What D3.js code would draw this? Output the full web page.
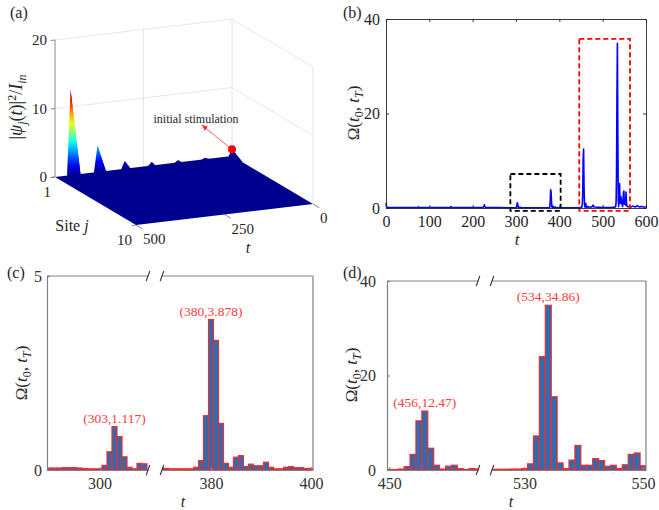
<!DOCTYPE html>
<html>
<head>
<meta charset="utf-8">
<script src="https://cdn.jsdelivr.net/npm/d3@7"></script>
<style>
body { margin: 0; background: #fff; }
text { font-family: "Liberation Serif", "DejaVu Serif", serif; }
</style>
</head>
<body>
<div id="fig"></div>
<script>
// panel (a): peaks of site 1 along t
var siteOnePeakT = [456, 380, 303, 227, 152, 76, 0];
var siteOnePeakV = [12.47, 3.878, 1.117, 0.55, 0.35, 0.22, 1.0];
var aTicksT = [0, 250, 500];
var aTicksJ = [1, 10];
var aTicksZ = [0, 10, 20];
var colorMax = 12.47;

// panel (c) bars
var cLeftT = [290, 291, 292, 293, 294, 295, 296, 297, 298, 299, 300, 301, 302, 303, 304, 305, 306, 307, 308, 309];
var cLeftV = [0.05, 0.05, 0.05, 0.06, 0.06, 0.06, 0.05, 0.04, 0.03, 0.03, 0.03, 0.12, 0.47, 1.117, 0.86, 0.34, 0.07, 0.03, 0.17, 0.16];
var cRightT = [370, 371, 372, 373, 374, 375, 376, 377, 378, 379, 380, 381, 382, 383, 384, 385, 386, 387, 388, 389, 390, 391, 392, 393, 394, 395, 396, 397, 398, 399, 400];
var cRightV = [0.05, 0.04, 0.03, 0.03, 0.03, 0.03, 0.03, 0.07, 0.24, 1.40, 3.878, 3.34, 1.2, 0.17, 0.07, 0.33, 0.37, 0.09, 0.15, 0.11, 0.11, 0.2, 0.07, 0.03, 0.03, 0.07, 0.09, 0.06, 0.06, 0.04, 0.04];
var cPeakT = [303, 380];
var cPeakV = [1.117, 3.878];

// panel (d) bars
var dLeftT = [450, 451, 452, 453, 454, 455, 456, 457, 458, 459, 460, 461, 462, 463, 464, 465];
var dLeftV = [0.1, 0.1, 0.2, 0.7, 3.3, 10.4, 12.47, 4.6, 1.0, 0.2, 0.8, 1.0, 0.3, 0.1, 0.3, 0.2];
var dRightT = [525, 526, 527, 528, 529, 530, 531, 532, 533, 534, 535, 536, 537, 538, 539, 540, 541, 542, 543, 544, 545, 546, 547, 548, 549, 550];
var dRightV = [0.15, 0.15, 0.15, 0.2, 0.2, 0.3, 1.3, 7.2, 24.0, 34.86, 15.5, 1.5, 0.3, 2.1, 5.2, 1.0, 1.0, 2.4, 2.0, 0.8, 1.0, 0.3, 1.1, 3.3, 3.6, 0.9];
var dPeakT = [456, 534];
var dPeakV = [12.47, 34.86];

// panel (b): extra samples outside the zoomed windows
var bExtraT = [0, 1, 2, 3, 6, 30, 60, 74, 75, 76, 78, 110, 148, 150, 152, 154, 190, 224, 226, 227, 228, 230, 260, 288,
  312, 330, 350, 368, 402, 420, 440, 448,
  466, 468, 472, 476, 478, 480, 490, 505, 520, 523,
  551, 552, 553, 554, 555, 556, 557, 560, 565, 570, 575, 580, 585, 590, 595, 600];
var bExtraV = [1.1, 0.4, 0.2, 0.15, 0.12, 0.1, 0.1, 0.1, 0.25, 0.1, 0.1, 0.1, 0.1, 0.3, 0.1, 0.1, 0.1, 0.1, 0.3, 0.7, 0.3, 0.1, 0.1, 0.05,
  0.05, 0.05, 0.05, 0.05, 0.04, 0.05, 0.05, 0.1,
  0.3, 0.2, 0.15, 0.3, 0.6, 0.2, 0.15, 0.1, 0.1, 0.15,
  0.8, 1.0, 0.6, 3.4, 1.2, 0.5, 0.3, 0.3, 0.2, 0.4, 0.2, 0.5, 0.2, 0.3, 0.2, 0.2];
var bTicksX = [0, 100, 200, 300, 400, 500, 600];
var bTicksY = [0, 20, 40];
var blackBoxT = [287, 403], blackBoxV = [-0.6, 7.2];
var redBoxT = [446, 563], redBoxV = [-0.6, 35.8];

var svg = d3.select("#fig").append("svg")
  .attr("width", 659)
  .attr("height", 510);
var defs = svg.append("defs");

var jet = d3.scaleLinear()
  .domain([0, 0.125, 0.375, 0.625, 0.875, 1])
  .range(["#00008f", "#0000ff", "#00ffff", "#ffff00", "#ff0000", "#800000"]);
var intFmt = d3.format("d");

function styleText(sel, size, color) {
  sel.selectAll("text")
    .style("font-family", "'Liberation Serif', serif")
    .style("font-size", size + "px")
    .attr("fill", color);
}

function omegaLabel(x, y) {
  var t = svg.append("text")
    .attr("transform", `translate(${x},${y}) rotate(-90)`)
    .attr("text-anchor", "middle")
    .style("font-size", "17px")
    .attr("fill", "#262626");
  t.append("tspan").text("Ω(");
  t.append("tspan").style("font-style", "italic").text("t");
  t.append("tspan").attr("dy", 4).style("font-size", "12px").text("0");
  t.append("tspan").attr("dy", -4).text(", ");
  t.append("tspan").style("font-style", "italic").text("t");
  t.append("tspan").attr("dy", 4).style("font-size", "12px").style("font-style", "italic").text("T");
  t.append("tspan").attr("dy", -4).text(")");
}

function panelLetter(x, y, s) {
  svg.append("text").attr("x", x).attr("y", y)
    .style("font-size", "16px").attr("fill", "#262626").text(s);
}

// ================= panel (a) =================
var pa = svg.append("g");
var tX = d3.scaleLinear().domain([500, 0]).range([55, 232]);
var tY = d3.scaleLinear().domain([500, 0]).range([177, 156]);
var jX = d3.scaleLinear().domain([1, 10]).range([0, 81]);
var jY = d3.scaleLinear().domain([1, 10]).range([0, 48]);
var zY = d3.scaleLinear().domain([0, 20]).range([0, -137]);

function proj(t, j, z) {
  return [tX(t) + jX(j), tY(t) + jY(j) + zY(z)];
}
function path3(pts, close) {
  return d3.line()(pts.map(p => proj(p[0], p[1], p[2]))) + (close ? "Z" : "");
}

// back wall (j = 1) and side wall (t = 0) grid
var grid = pa.append("g").attr("fill", "none").attr("stroke", "#e3e3e3").attr("stroke-width", 0.9);
aTicksZ.filter(z => z > 0).forEach(function(z) {
  grid.append("path").attr("d", path3([[500, 1, z], [0, 1, z], [0, 10, z]]));
});
aTicksT.filter(t => t < 500).forEach(function(t) {
  grid.append("path").attr("d", path3([[t, 1, 0], [t, 1, 20]]));
});
grid.append("path").attr("d", path3([[0, 10, 0], [0, 10, 20]]));

// axis lines and ticks
var axA = pa.append("g").attr("fill", "none").attr("stroke", "#8a8a8a").attr("stroke-width", 1);
axA.append("path").attr("d", path3([[500, 1, 0], [500, 1, 20]]));
aTicksZ.forEach(function(z) {
  axA.append("path").attr("d", path3([[500, 1, z], [512, 1, z]]));
});
aTicksT.forEach(function(t) {
  axA.append("path").attr("d", path3([[t, 10, 0], [t, 10.7, 0]]));
});
aTicksJ.forEach(function(j) {
  axA.append("path").attr("d", path3([[500, j, 0], [512, j, 0]]));
});

// flat floor of the surface
pa.append("path")
  .attr("d", path3([[500, 1, 0], [500, 10, 0], [0, 10, 0], [0, 1, 0]], true))
  .attr("fill", jet(0));

// spikes at site 1
siteOnePeakT.forEach(function(t, i) {
  var v = siteOnePeakV[i];
  var base = proj(t, 1, 0), apex = proj(t, 1, v);
  var grad = defs.append("linearGradient").attr("id", "spike" + i)
    .attr("gradientUnits", "userSpaceOnUse")
    .attr("x1", 0).attr("y1", base[1]).attr("x2", 0).attr("y2", apex[1]);
  d3.range(0, 1.0001, 0.1).forEach(function(f) {
    grad.append("stop").attr("offset", f).attr("stop-color", jet(f * v / colorMax));
  });
  var tl = Math.min(500, t + 10), tr = Math.max(0, t - 10);
  pa.append("path").attr("d", path3([[tl, 1, 0], [t, 1, v], [t, 2.2, 0]], true))
    .attr("fill", "url(#spike" + i + ")");
  pa.append("path").attr("d", path3([[t, 1, v], [tr, 1, 0], [t, 2.2, 0]], true))
    .attr("fill", "url(#spike" + i + ")");
});

// tick labels
aTicksZ.forEach(function(z) {
  var p = proj(500, 1, z);
  pa.append("text").attr("x", p[0] - 8).attr("y", p[1] + 5)
    .attr("text-anchor", "end").style("font-size", "15px").attr("fill", "#262626").text(z);
});
aTicksT.forEach(function(t) {
  var p = proj(t, 10, 0);
  pa.append("text").attr("x", p[0] + 7).attr("y", p[1] + 19)
    .style("font-size", "15px").attr("fill", "#262626").text(t);
});
aTicksJ.forEach(function(j) {
  var p = proj(500, j, 0);
  pa.append("text").attr("x", p[0] - 4).attr("y", p[1] + 20)
    .attr("text-anchor", "end").style("font-size", "15px").attr("fill", "#262626").text(j);
});
var siteLab = pa.append("text").attr("x", 72).attr("y", 231).attr("text-anchor", "middle")
  .style("font-size", "16px").attr("fill", "#262626");
siteLab.append("tspan").text("Site ");
siteLab.append("tspan").style("font-style", "italic").text("j");
pa.append("text").attr("x", 248).attr("y", 253).attr("text-anchor", "middle")
  .style("font-size", "16px").style("font-style", "italic").attr("fill", "#262626").text("t");

var zLab = pa.append("text")
  .attr("transform", "translate(22,107) rotate(-90)")
  .attr("text-anchor", "middle").style("font-size", "18px").attr("fill", "#262626");
zLab.append("tspan").text("|");
zLab.append("tspan").style("font-style", "italic").text("ψ");
zLab.append("tspan").attr("dy", 4).style("font-size", "12px").style("font-style", "italic").text("j");
zLab.append("tspan").attr("dy", -4).text("(");
zLab.append("tspan").style("font-style", "italic").text("t");
zLab.append("tspan").text(")|");
zLab.append("tspan").attr("dy", -6).style("font-size", "12px").text("2");
zLab.append("tspan").attr("dy", 6).text("/");
zLab.append("tspan").style("font-style", "italic").text("I");
zLab.append("tspan").attr("dy", 4).style("font-size", "12px").style("font-style", "italic").text("in");

// initial stimulation marker
var dot = proj(0, 1, siteOnePeakV[6]);
defs.append("marker").attr("id", "arrowRed").attr("viewBox", "0 0 10 10")
  .attr("refX", 9).attr("refY", 5).attr("markerWidth", 7).attr("markerHeight", 7)
  .attr("orient", "auto-start-reverse")
  .append("path").attr("d", "M0,1L10,5L0,9Z").attr("fill", "#ff3030");
pa.append("line").attr("x1", dot[0] - 3).attr("y1", dot[1] - 2)
  .attr("x2", dot[0] - 30).attr("y2", dot[1] - 24)
  .attr("stroke", "#ff5050").attr("stroke-width", 0.9).attr("marker-end", "url(#arrowRed)");
pa.append("circle").attr("cx", dot[0]).attr("cy", dot[1]).attr("r", 4).attr("fill", "#ff0000");
pa.append("text").attr("x", dot[0] - 36).attr("y", dot[1] - 26).attr("text-anchor", "middle")
  .style("font-size", "12px").attr("fill", "#262626").text("initial stimulation");

panelLetter(10, 18, "(a)");

// ================= panel (b) =================
var pb = svg.append("g");
var bx = d3.scaleLinear().domain([0, 600]).range([386, 646]);
var by = d3.scaleLinear().domain([0, 40]).range([208, 19]);

var bSeries = [];
cLeftT.forEach((t, i) => bSeries.push([t, cLeftV[i]]));
cRightT.forEach((t, i) => bSeries.push([t, cRightV[i]]));
dLeftT.forEach((t, i) => bSeries.push([t, dLeftV[i]]));
dRightT.forEach((t, i) => bSeries.push([t, dRightV[i]]));
bExtraT.forEach((t, i) => bSeries.push([t, bExtraV[i]]));
bSeries.sort((a, b) => a[0] - b[0]);

pb.append("path").datum(bSeries)
  .attr("d", d3.line().x(d => bx(d[0])).y(d => by(d[1])))
  .attr("fill", "none").attr("stroke", "#0000ff").attr("stroke-width", 1.6)
  .attr("stroke-linejoin", "round");

pb.append("rect")
  .attr("x", bx(blackBoxT[0])).attr("y", by(blackBoxV[1]))
  .attr("width", bx(blackBoxT[1]) - bx(blackBoxT[0])).attr("height", by(blackBoxV[0]) - by(blackBoxV[1]))
  .attr("fill", "none").attr("stroke", "#000").attr("stroke-width", 1.8).attr("stroke-dasharray", "5,3");
pb.append("rect")
  .attr("x", bx(redBoxT[0])).attr("y", by(redBoxV[1]))
  .attr("width", bx(redBoxT[1]) - bx(redBoxT[0])).attr("height", by(redBoxV[0]) - by(redBoxV[1]))
  .attr("fill", "none").attr("stroke", "#ff0000").attr("stroke-width", 1.8).attr("stroke-dasharray", "5,3");

var bBottom = pb.append("g").attr("transform", "translate(0,208)")
  .call(d3.axisBottom(bx).tickValues(bTicksX).tickSizeInner(-3).tickSizeOuter(0).tickPadding(8).tickFormat(intFmt));
var bTop = pb.append("g").attr("transform", "translate(0,19)")
  .call(d3.axisTop(bx).tickValues(bTicksX).tickSizeInner(-3).tickSizeOuter(0).tickFormat(""));
var bLeft = pb.append("g").attr("transform", "translate(386,0)")
  .call(d3.axisLeft(by).tickValues(bTicksY).tickSizeInner(-3).tickSizeOuter(0).tickPadding(6).tickFormat(intFmt));
var bRight = pb.append("g").attr("transform", "translate(646,0)")
  .call(d3.axisRight(by).tickValues(bTicksY).tickSizeInner(-3).tickSizeOuter(0).tickFormat(""));
[bBottom, bTop, bLeft, bRight].forEach(function(a) {
  a.selectAll(".domain, .tick line").attr("stroke", "#262626").attr("stroke-width", 0.9);
  styleText(a, 16, "#262626");
});
pb.append("text").attr("x", 517).attr("y", 245).attr("text-anchor", "middle")
  .style("font-size", "17px").style("font-style", "italic").attr("fill", "#262626").text("t");
omegaLabel(359, 113);
panelLetter(343, 18, "(b)");

// ================= panels (c) and (d): broken axes =================
function brokenPanel(p) {
  var g = svg.append("g");
  var y = d3.scaleLinear().domain(p.yDomain).range([p.bottom, p.top]);
  var axisColor = "#808080";

  p.segments.forEach(function(s, i) {
    var x = d3.scaleLinear().domain(s.domain).range(s.range);
    var clipId = p.id + "clip" + i;
    defs.append("clipPath").attr("id", clipId).append("rect")
      .attr("x", s.range[0]).attr("y", p.top - 2)
      .attr("width", s.range[1] - s.range[0]).attr("height", p.bottom - p.top + 2);

    g.append("g").attr("clip-path", `url(#${clipId})`)
      .selectAll("rect")
      .data(s.t.map((t, k) => [t, s.v[k]]))
      .enter()
      .append("rect")
      .attr("x", d => x(d[0] - 0.5))
      .attr("width", d => x(d[0] + 0.5) - x(d[0] - 0.5))
      .attr("y", d => y(d[1]))
      .attr("height", d => y(0) - y(d[1]))
      .attr("fill", "#2b6cb3")
      .attr("stroke", "#f52a2a")
      .attr("stroke-width", 1.2);

    var ax = g.append("g").attr("transform", `translate(0,${p.bottom})`)
      .call(d3.axisBottom(x).tickValues(s.ticks).tickSizeInner(-3).tickSizeOuter(0).tickPadding(8).tickFormat(intFmt));
    ax.selectAll(".domain, .tick line").attr("stroke", axisColor).attr("stroke-width", 1.2);
    styleText(ax, 16, "#333");

    g.append("line").attr("x1", s.range[0]).attr("x2", s.range[1])
      .attr("y1", p.top).attr("y2", p.top)
      .attr("stroke", axisColor).attr("stroke-width", 1.2);

    p.peakT.forEach(function(pt, k) {
      if (pt < s.domain[0] || pt > s.domain[1]) return;
      g.append("text").attr("x", x(pt)).attr("y", y(p.peakV[k]) - 4)
        .attr("text-anchor", "middle").style("font-size", "13.5px").attr("fill", "#ff3b3b")
        .text("(" + pt + "," + p.peakV[k] + ")");
    });
  });

  var first = p.segments[0].range, last = p.segments[p.segments.length - 1].range;
  var yl = g.append("g").attr("transform", `translate(${first[0]},0)`)
    .call(d3.axisLeft(y).tickValues(p.yTicks).tickSizeInner(-3).tickSizeOuter(0).tickPadding(p.yPad).tickFormat(intFmt));
  yl.selectAll(".domain, .tick line").attr("stroke", axisColor).attr("stroke-width", 1.2);
  styleText(yl, 16, "#333");
  g.append("line").attr("x1", last[1]).attr("x2", last[1]).attr("y1", p.top).attr("y2", p.bottom)
    .attr("stroke", axisColor).attr("stroke-width", 1.2);

  // break marks
  [first[1], last[0]].forEach(function(bxp) {
    [p.top, p.bottom].forEach(function(byp) {
      g.append("line").attr("x1", bxp - 1.8).attr("y1", byp + 5).attr("x2", bxp + 1.8).attr("y2", byp - 5)
        .attr("stroke", "#333").attr("stroke-width", 1.1);
    });
  });
}

brokenPanel({
  id: "c", top: 276, bottom: 470, yDomain: [0, 5], yTicks: [0, 5], yPad: 5,
  peakT: cPeakT, peakV: cPeakV,
  segments: [
    {domain: [289.5, 309.7], range: [47, 148], t: cLeftT, v: cLeftV, ticks: [300]},
    {domain: [370.2, 400.4], range: [162, 313], t: cRightT, v: cRightV, ticks: [380, 400]}
  ]
});
brokenPanel({
  id: "d", top: 281, bottom: 470, yDomain: [0, 40], yTicks: [0, 20, 40], yPad: 11,
  peakT: dPeakT, peakV: dPeakV,
  segments: [
    {domain: [449.6, 465.0], range: [387, 478], t: dLeftT, v: dLeftV, ticks: [450]},
    {domain: [524.5, 550.5], range: [492, 646], t: dRightT, v: dRightV, ticks: [530, 550]}
  ]
});

svg.append("text").attr("x", 183).attr("y", 507).attr("text-anchor", "middle")
  .style("font-size", "16px").style("font-style", "italic").attr("fill", "#262626").text("t");
svg.append("text").attr("x", 511).attr("y", 507).attr("text-anchor", "middle")
  .style("font-size", "16px").style("font-style", "italic").attr("fill", "#262626").text("t");
omegaLabel(27, 373);
omegaLabel(357, 375);
panelLetter(7, 278, "(c)");
panelLetter(343, 278, "(d)");
</script>
</body>
</html>
